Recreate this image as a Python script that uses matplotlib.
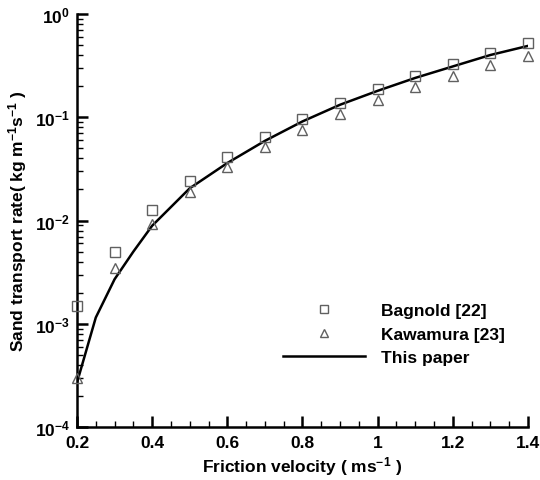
import math
import matplotlib
matplotlib.use("Agg")
import matplotlib.pyplot as plt
from matplotlib.ticker import LogLocator, MultipleLocator, FuncFormatter, NullFormatter

plt.rcParams['font.family'] = ['Liberation Sans', 'DejaVu Sans']
plt.rcParams['font.weight'] = 'bold'
plt.rcParams['mathtext.default'] = 'regular'

# Data
bag_x = [0.2, 0.3, 0.4, 0.5, 0.6, 0.7, 0.8, 0.9, 1.0, 1.1, 1.2, 1.3, 1.4]
bag_y = [1.5e-3, 5.0e-3, 1.25e-2, 0.024, 0.041, 0.065, 0.097, 0.137, 0.188, 0.25, 0.33, 0.42, 0.52]
kaw_x = [0.2, 0.3, 0.4, 0.5, 0.6, 0.7, 0.8, 0.9, 1.0, 1.1, 1.2, 1.3, 1.4]
kaw_y = [3.0e-4, 3.5e-3, 9.3e-3, 0.019, 0.033, 0.052, 0.076, 0.107, 0.148, 0.195, 0.25, 0.32, 0.39]
line_x = [0.2, 0.25, 0.3, 0.35, 0.4, 0.5, 0.6, 0.7, 0.8, 0.9, 1.0, 1.1, 1.2, 1.3, 1.4]
line_y = [2.7e-4, 1.15e-3, 2.7e-3, 5.0e-3, 8.9e-3, 0.0205, 0.036, 0.059, 0.091, 0.132, 0.18, 0.24, 0.31, 0.40, 0.49]

fig = plt.figure(figsize=(5.40, 4.81), dpi=100)
ax = fig.add_axes([0.1426, 0.110, 0.835, 0.859])

ax.plot(line_x, line_y, color='black', lw=1.8, label='This paper', zorder=2)
ax.plot(bag_x, bag_y, ls='none', marker='s', ms=6.5, mfc='none', mec='#606060', mew=1.0,
        label='Bagnold [22]', clip_on=False, zorder=3)
ax.plot(kaw_x, kaw_y, ls='none', marker='^', ms=7.5, mfc='none', mec='#606060', mew=1.0,
        label='Kawamura [23]', clip_on=False, zorder=3)

ax.set_yscale('log')
ax.set_xlim(0.2, 1.4)
ax.set_ylim(1e-4, 1)

ax.xaxis.set_major_locator(MultipleLocator(0.2))
ax.xaxis.set_minor_locator(MultipleLocator(0.05))
ax.xaxis.set_major_formatter(FuncFormatter(lambda v, p: ('%g' % round(v, 2))))
ax.yaxis.set_major_locator(LogLocator(base=10, numticks=10))
ax.yaxis.set_minor_locator(LogLocator(base=10, subs=range(2, 10), numticks=20))
ax.yaxis.set_minor_formatter(NullFormatter())
ax.yaxis.set_major_formatter(FuncFormatter(lambda v, p: r'10$^{%d}$' % round(math.log10(v))))

for s in ['top', 'right']:
    ax.spines[s].set_visible(False)
for s in ['left', 'bottom']:
    ax.spines[s].set_linewidth(1.8)

ax.tick_params(which='major', direction='in', length=8, width=1.8, labelsize=12.5)
ax.tick_params(axis='x', which='major', pad=6)
ax.tick_params(axis='y', which='major', pad=5)
ax.tick_params(which='minor', direction='in', length=4, width=1.0)

ax.set_xlabel('Friction velocity ( ms$^{-1}$ )', fontsize=12.5, fontweight='bold', labelpad=3)
ax.set_ylabel('Sand transport rate( kg m$^{-1}$s$^{-1}$ )', fontsize=12.5, fontweight='bold', labelpad=4)

handles, labels = ax.get_legend_handles_labels()
order = [1, 2, 0]
leg = ax.legend([handles[i] for i in order], [labels[i] for i in order],
                loc='upper left', bbox_to_anchor=(0.423, 0.338), frameon=False,
                handlelength=4.7, handletextpad=0.9, labelspacing=0.48,
                prop={'size': 12.5, 'weight': 'bold'}, markerscale=0.8)

fig.savefig('out.png', dpi=100)
